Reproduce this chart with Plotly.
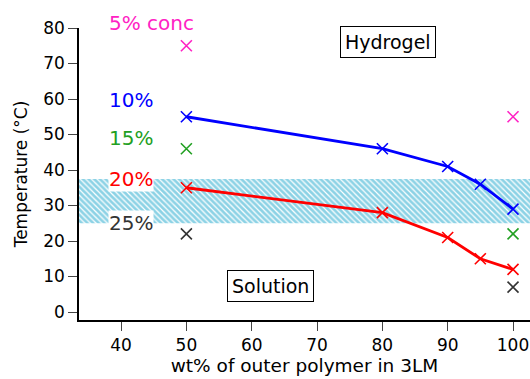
import plotly.graph_objects as go

# ---- data ----
x_pts = [50, 80, 90, 95, 100]
t10 = [55, 46, 41, 36, 29]
t20 = [35, 28, 21, 15, 12]
x_ends = [50, 100]
t5 = [75, 55]
t15 = [46, 22]
t25 = [22, 7]
band = [25, 37.5]
x_ticks = [40, 50, 60, 70, 80, 90, 100]
y_ticks = [0, 10, 20, 30, 40, 50, 60, 70, 80]

XR = [33.56, 102.6]
YR = [-2.25, 80]
FONT = "DejaVu Sans"

fig = go.Figure()

# hatched band
fig.add_trace(go.Scatter(
    x=[XR[0], XR[1], XR[1], XR[0], XR[0]],
    y=[band[0], band[0], band[1], band[1], band[0]],
    mode="lines", line=dict(width=0), fill="toself",
    fillcolor="rgba(0,0,0,0)",
    fillpattern=dict(shape="\\", fgcolor="#19a6cc", bgcolor="white", size=4, solidity=0.7),
    hoverinfo="skip", showlegend=False,
))

def marker(color):
    return dict(symbol="x-thin", size=11, line=dict(color=color, width=1.6), color=color)

fig.add_trace(go.Scatter(x=x_pts, y=t10, mode="lines+markers",
                         line=dict(color="#0000ff", width=2.8), marker=marker("#0000ff"),
                         showlegend=False))
fig.add_trace(go.Scatter(x=x_pts, y=t20, mode="lines+markers",
                         line=dict(color="#ff0000", width=2.8), marker=marker("#ff0000"),
                         showlegend=False))
fig.add_trace(go.Scatter(x=x_ends, y=t5, mode="markers", marker=marker("#ff22c4"), showlegend=False))
fig.add_trace(go.Scatter(x=x_ends, y=t15, mode="markers", marker=marker("#22a022"), showlegend=False))
fig.add_trace(go.Scatter(x=x_ends, y=t25, mode="markers", marker=marker("#333333"), showlegend=False))

# concentration labels (paper y for the top one, which sits above the axes)
fig.add_annotation(x=38.0, y=1.017, yref="paper", text="5% conc", showarrow=False,
                   xanchor="left", yanchor="middle",
                   font=dict(family=FONT, size=20, color="#ff22c4"), borderpad=0)
labels = [("10%", 59.8, "#0000ff", None),
          ("15%", 49.1, "#22a022", None), ("20%", 37.4, "#ff0000", "white"),
          ("25%", 25.2, "#333333", "white")]
for txt, yv, col, bg in labels:
    fig.add_annotation(x=38.0, y=yv, text=txt, showarrow=False, xanchor="left", yanchor="middle",
                       font=dict(family=FONT, size=20, color=col),
                       bgcolor=bg if bg else "rgba(0,0,0,0)", borderpad=0)

for txt, xv, yv in [("Hydrogel", 80.8, 76), ("Solution", 62.9, 7.2)]:
    fig.add_annotation(x=xv, y=yv, text=txt, showarrow=False,
                       font=dict(family=FONT, size=19, color="black"),
                       bgcolor="white", bordercolor="black", borderwidth=1, borderpad=4)

fig.update_layout(
    width=530, height=379,
    margin=dict(l=79, r=0, t=28, b=59),
    plot_bgcolor="white", paper_bgcolor="white",
    font=dict(family=FONT, size=16, color="black"),
    xaxis=dict(range=XR, tickvals=x_ticks, ticks="outside", ticklen=9, tickwidth=1.3,
               showline=True, linecolor="black", linewidth=1.5, showgrid=False, zeroline=False,
               title=dict(text="wt% of outer polymer in 3LM", standoff=3, font=dict(size=18.5)),
               tickfont=dict(size=17)),
    yaxis=dict(range=YR, tickvals=y_ticks, ticks="outside", ticklen=9, tickwidth=1.3,
               showline=True, linecolor="black", linewidth=1.5, showgrid=False, zeroline=False,
               title=dict(text="Temperature (°C)", standoff=11, font=dict(size=17)),
               tickfont=dict(size=17)),
)

fig.write_html("out.html")
